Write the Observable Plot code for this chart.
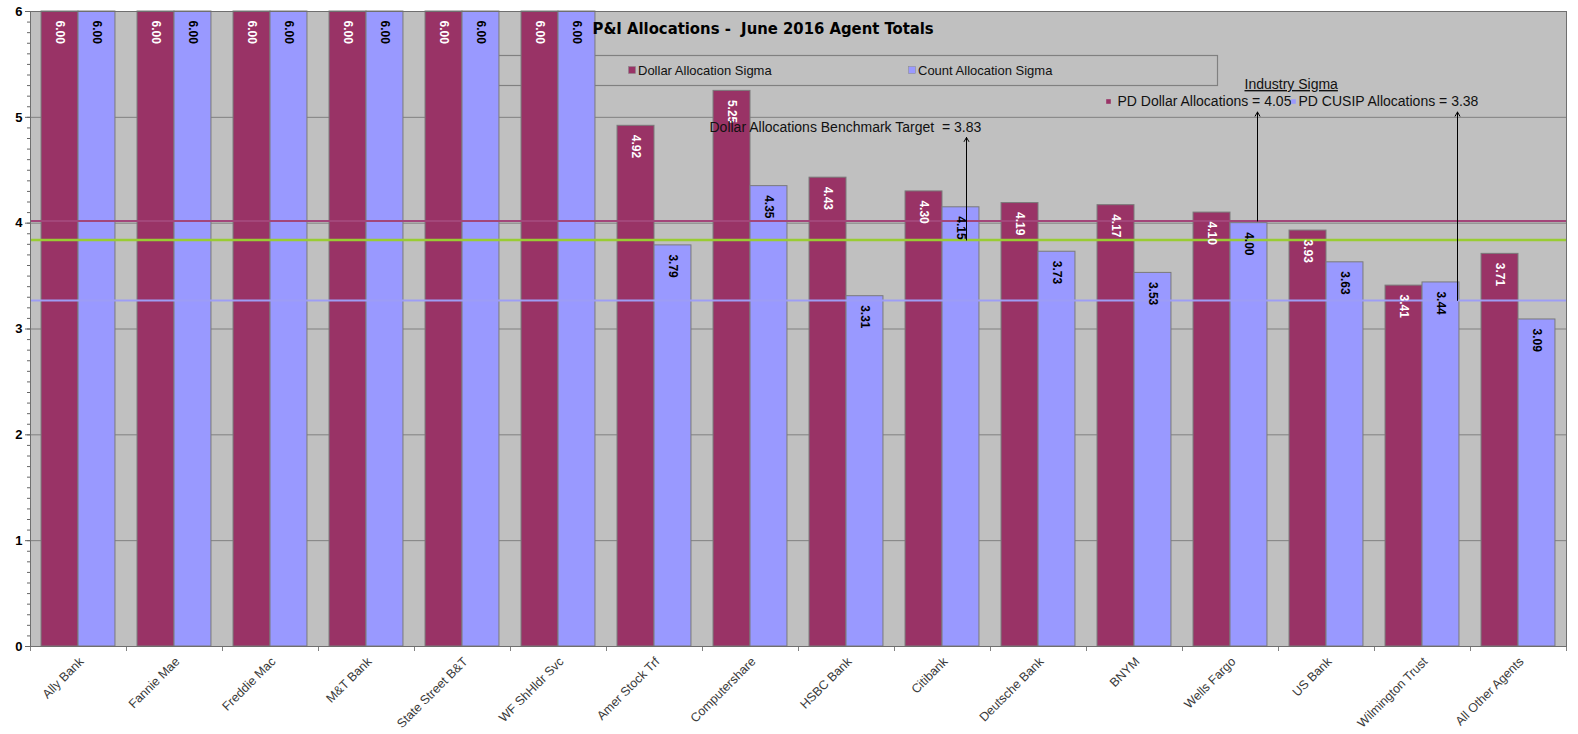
<!DOCTYPE html>
<html>
<head>
<meta charset="utf-8">
<script src="https://cdn.jsdelivr.net/npm/d3@7"></script>
<script src="https://cdn.jsdelivr.net/npm/@observablehq/plot@0.6"></script>
<style>
  html, body { margin: 0; padding: 0; background: #ffffff; overflow: hidden; width: 1578px; }
  #chart { width: 1578px; }
  #chart svg { display: block; max-width: none !important; width: 1578px !important; height: 734px !important; }
</style>
</head>
<body>
<div id="chart"></div>
<script>
const categories = ["Ally Bank","Fannie Mae","Freddie Mac","M&T Bank","State Street B&T","WF ShHldr Svc","Amer Stock Trf","Computershare","HSBC Bank","Citibank","Deutsche Bank","BNYM","Wells Fargo","US Bank","Wilmington Trust","All Other Agents"];
const dollarSigma = [6.00,6.00,6.00,6.00,6.00,6.00,4.92,5.25,4.43,4.30,4.19,4.17,4.10,3.93,3.41,3.71];
const countSigma  = [6.00,6.00,6.00,6.00,6.00,6.00,3.79,4.35,3.31,4.15,3.73,3.53,4.00,3.63,3.44,3.09];
const seriesNames = ["Dollar Allocation Sigma","Count Allocation Sigma"];
const seriesColors = ["#993366","#9999FF"];
const yTicks = [0,1,2,3,4,5,6];
// horizontal reference lines as drawn: industry dollar, industry count (CUSIP), benchmark target
const refLineValues = [4.02, 3.27, 3.84];
const refLineColors = ["#A3467A", "#9D9DF5", "#99CC33"];
const refLabelValues = ["4.05", "3.38", "3.83"];
const title = "P&I Allocations -  June 2016 Agent Totals";

const W = 1578, H = 734, ML = 30, MR = 12, MT = 11, MB = 88;
const PI = 0.23, PO = 0.115;
const step = (W - ML - MR) / (categories.length - PI + 2 * PO);
const half = step * (1 - PI) / 2;
const FONT = "'Liberation Sans', Arial, sans-serif";

const rows = categories.flatMap((c, i) => [
  {cat: c, s: 0, v: dollarSigma[i]},
  {cat: c, s: 1, v: countSigma[i]}
]);
const dRows = rows.filter(d => d.s === 0);
const cRows = rows.filter(d => d.s === 1);
const minor = d3.range(0, 60).map(i => i / 10);

const note = (text, dx, dy, extra = {}) => Plot.text([text], {frameAnchor: "top-left", dx, dy, textAnchor: "start",
  lineAnchor: "middle", fontSize: 14, fill: "#111", ...extra});

const plot = Plot.plot({
  width: W, height: H,
  marginLeft: ML, marginRight: MR, marginTop: MT, marginBottom: MB,
  style: {fontFamily: FONT, background: "#ffffff"},
  x: {domain: categories, paddingInner: PI, paddingOuter: PO, round: false, label: null},
  y: {domain: [0, 6], label: null},
  marks: [
    Plot.frame({fill: "#C0C0C0", stroke: null}),
    Plot.ruleY(yTicks.slice(1), {stroke: "#808080", strokeWidth: 1}),
    Plot.barY(dRows, {x: "cat", y: "v", fill: seriesColors[0], stroke: "#7a7a7a", strokeWidth: 1, insetRight: half}),
    Plot.barY(cRows, {x: "cat", y: "v", fill: seriesColors[1], stroke: "#7a7a7a", strokeWidth: 1, insetLeft: half}),
    Plot.ruleY([refLineValues[0]], {stroke: refLineColors[0], strokeWidth: 2}),
    Plot.ruleY([refLineValues[1]], {stroke: refLineColors[1], strokeWidth: 2}),
    Plot.ruleY([refLineValues[2]], {stroke: refLineColors[2], strokeWidth: 2.5}),
    Plot.text(dRows, {x: "cat", y: "v", text: d => d.v.toFixed(2), rotate: 90, textAnchor: "start", lineAnchor: "middle",
      dx: -half / 2, dy: 9, fill: "white", fontWeight: "bold", fontSize: 12}),
    Plot.text(cRows, {x: "cat", y: "v", text: d => d.v.toFixed(2), rotate: 90, textAnchor: "start", lineAnchor: "middle",
      dx: half / 2, dy: 9, fill: "black", fontWeight: "bold", fontSize: 12}),
    // annotations
    Plot.arrow([0], {x1: () => "Citibank", x2: () => "Citibank", y1: () => refLineValues[2], y2: () => 4.81,
      dx: 24, stroke: "black", strokeWidth: 1, headLength: 7}),
    Plot.arrow([0], {x1: () => "Wells Fargo", x2: () => "Wells Fargo", y1: () => refLineValues[0], y2: () => 5.05,
      dx: 27, stroke: "black", strokeWidth: 1, headLength: 7}),
    Plot.arrow([0], {x1: () => "Wilmington Trust", x2: () => "Wilmington Trust", y1: () => refLineValues[1], y2: () => 5.05,
      dx: 35, stroke: "black", strokeWidth: 1, headLength: 7}),
    note(title, 562, 17, {fontWeight: "bold", fontSize: 16.5, fill: "black",
      fontFamily: "'DejaVu Sans Condensed', 'Liberation Sans', sans-serif"}),
    note("Dollar Allocations Benchmark Target  = " + refLabelValues[2], 679, 116),
    note("Industry Sigma", 1214, 73),
    note("PD Dollar Allocations = " + refLabelValues[0], 1087, 90),
    note("PD CUSIP Allocations = " + refLabelValues[1], 1268, 90),
    Plot.dot([0], {frameAnchor: "top-left", dx: 1078, dy: 90, symbol: "square", r: 2.6, fill: seriesColors[0], stroke: null}),
    Plot.dot([0], {frameAnchor: "top-left", dx: 1263, dy: 90, symbol: "square", r: 2.6, fill: seriesColors[1], stroke: null}),
    // axes
    Plot.axisY({ticks: minor, tickSize: 3, tickFormat: () => "", stroke: "#666", label: null}),
    Plot.axisY({ticks: yTicks, tickSize: 5, tickPadding: 3, tickFormat: d3.format("d"), fontWeight: "bold", fontSize: 13, fill: "black", stroke: "#666", label: null}),
    Plot.axisX({tickSize: 0, tickRotate: -45, tickPadding: 13, dx: 3, fontSize: 12.5, fill: "#3a3a3a", label: null}),
    Plot.ruleX(categories, {x: d => d, y1: 0, y2: 0, insetBottom: -5, dx: -step / 2, stroke: "#808080"}),
    Plot.ruleX([categories[categories.length - 1]], {x: d => d, y1: 0, y2: 0, insetBottom: -5, dx: step / 2, stroke: "#808080"}),
    Plot.frame({stroke: "#6f6f6f", strokeWidth: 1})
  ]
});

document.getElementById("chart").append(plot);

// legend box (drawn behind bars) and legend items
const svg = d3.select(plot);
const firstBar = plot.querySelector("g[aria-label='bar']");
const lg = svg.insert("g", () => firstBar).attr("class", "legend");
lg.append("rect").attr("x", 493.5).attr("y", 55.5).attr("width", 724).attr("height", 30)
  .attr("fill", "none").attr("stroke", "#808080").attr("stroke-width", 1.2);
const items = [[632, seriesNames[0], seriesColors[0]], [912, seriesNames[1], seriesColors[1]]];
const lgt = svg.append("g").attr("class", "legend-items")
  .attr("text-anchor", "start")
  .style("font-family", FONT).style("font-size", "13px");
items.forEach(([x, name, col]) => {
  lgt.append("rect").attr("x", x - 3.5).attr("y", 66.5).attr("width", 7).attr("height", 7).attr("fill", col).attr("stroke", "#888").attr("stroke-width", 0.5);
  lgt.append("text").attr("x", x + 6).attr("y", 70).attr("dy", "0.35em").attr("fill", "#111").text(name);
});
svg.selectAll("text").filter(function() { return this.textContent === "Industry Sigma"; })
  .attr("text-decoration", "underline");
</script>
</body>
</html>
